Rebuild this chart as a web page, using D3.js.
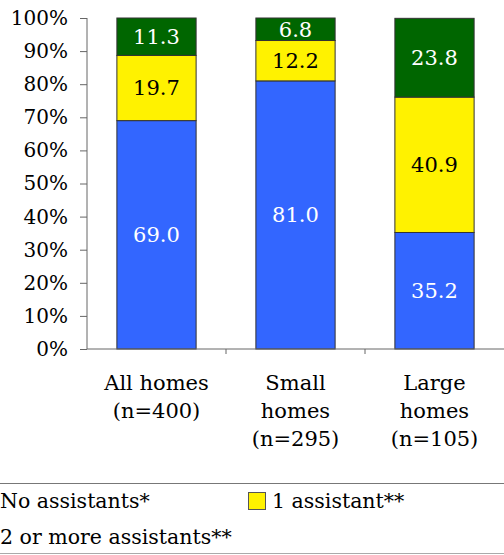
<!DOCTYPE html>
<html><head><meta charset="utf-8">
<script src="https://cdn.jsdelivr.net/npm/d3@7"></script>
<style>body{margin:0;background:#fff}svg{display:block}text{font-family:"DejaVu Serif",Georgia,serif}</style>
</head><body><div id="c"></div>
<script>
const categories = [["All homes","(n=400)"],["Small","homes","(n=295)"],["Large","homes","(n=105)"]];
const seriesNames = ["No assistants*","1 assistant**","2 or more assistants**"];
const noAssist = [69.0, 81.0, 35.2];
const oneAssist = [19.7, 12.2, 40.9];
const twoPlus = [11.3, 6.8, 23.8];
const colors = ["#3366FF","#FFF200","#006600"];
const labelColors = ["#fff","#000","#fff"];
const yTicks = [0,10,20,30,40,50,60,70,80,90,100];

const W=504,H=555;
const svg=d3.select("#c").append("svg").attr("width",W).attr("height",H);
const x=d3.scaleBand().domain(categories.map((d,i)=>i)).range([87,504]).paddingInner(0.43).paddingOuter(0.215);
const y=d3.scaleLinear().domain([0,100]).range([349,18]);

const rows=categories.map((c,i)=>({i,a:noAssist[i],b:oneAssist[i],c:twoPlus[i]}));
const stack=d3.stack().keys(["a","b","c"])(rows);

const g=svg.append("g");
stack.forEach((layer,k)=>{
  g.selectAll(null).data(layer).join("rect")
    .attr("x",d=>x(d.data.i)).attr("width",x.bandwidth())
    .attr("y",d=>y(d[1])).attr("height",d=>y(d[0])-y(d[1]))
    .attr("fill",colors[k]).attr("stroke","#333").attr("stroke-width",1);
  g.selectAll(null).data(layer).join("text")
    .attr("x",d=>x(d.data.i)+x.bandwidth()/2).attr("y",d=>y((d[0]+d[1])/2))
    .attr("dy","0.35em").attr("text-anchor","middle").attr("font-size",21)
    .attr("fill",labelColors[k]).text(d=>(d[1]-d[0]).toFixed(1));
});

// y axis
const ya=svg.append("g").attr("transform","translate(87,0)")
  .call(d3.axisLeft(y).tickValues(yTicks).tickSize(7).tickPadding(12).tickFormat(d=>d+"%"));
ya.select(".domain").attr("stroke","#666").attr("d","M0,18V349");
ya.selectAll(".tick line").attr("stroke","#666");
ya.selectAll("text").attr("font-size",20).attr("fill","#000").style("font-family","DejaVu Serif");

// x axis
const xa=svg.append("g").attr("transform","translate(0,349)");
xa.append("line").attr("x1",87).attr("x2",504).attr("stroke","#666");
[1,2].forEach(i=>{
  const xx=x(i)-x.step()*x.paddingInner()/2;
  xa.append("line").attr("x1",xx).attr("x2",xx).attr("y1",0).attr("y2",5).attr("stroke","#666");
});
categories.forEach((lines,i)=>{
  const t=svg.append("text").attr("text-anchor","middle").attr("font-size",21).attr("fill","#000");
  lines.forEach((l,j)=>t.append("tspan").attr("x",x(i)+x.bandwidth()/2).attr("y",390+28*j).text(l));
});

// legend
svg.append("line").attr("x1",0).attr("x2",W).attr("y1",483.5).attr("y2",483.5).attr("stroke","#777");
svg.append("line").attr("x1",0).attr("x2",W).attr("y1",553.5).attr("y2",553.5).attr("stroke","#aaa");
const legPos=[[0,508],[272,508],[0,544]];
seriesNames.forEach((s,k)=>{
  const [lx,ly]=legPos[k];
  svg.append("rect").attr("x",lx-24+0.5).attr("y",ly-16+0.5).attr("width",17).attr("height",17)
    .attr("fill",colors[k]).attr("stroke","#555");
  svg.append("text").attr("x",lx).attr("y",ly).attr("font-size",20.5).attr("fill","#000").text(s);
});
</script></body></html>
